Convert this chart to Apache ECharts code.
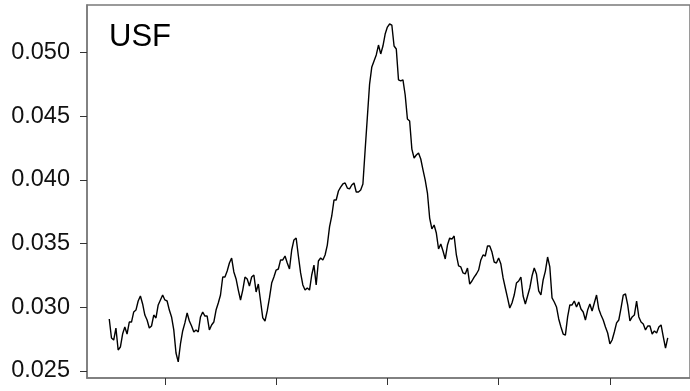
<!DOCTYPE html>
<html>
<head>
<meta charset="utf-8">
<title>USF</title>
<script src="https://cdn.jsdelivr.net/npm/echarts@6/dist/echarts.min.js"></script>
<style>
  html, body { margin: 0; padding: 0; background: #ffffff; }
  #chart { width: 690px; height: 391px; }
</style>
</head>
<body>
<div id="chart"></div>
<script>
// Series label
const seriesName = 'USF';

// Sampling of the series along the x axis (observation index)
const xStart = 50;
const xStep = 2;

// Observed values
const usfValues = [
  0.02908, 0.02759, 0.02743, 0.02837, 0.02665, 0.02688, 0.02790, 0.02845, 0.02790, 0.02884,
  0.02884, 0.02963, 0.02978, 0.03049, 0.03088, 0.03026, 0.02939, 0.02900, 0.02837, 0.02853,
  0.02939, 0.02916, 0.03018, 0.03057, 0.03096, 0.03057, 0.03049, 0.02978, 0.02924, 0.02822,
  0.02641, 0.02571, 0.02712, 0.02814, 0.02877, 0.02955, 0.02892, 0.02853, 0.02806, 0.02822,
  0.02806, 0.02924, 0.02963, 0.02931, 0.02931, 0.02822, 0.02861, 0.02884, 0.02978, 0.03033,
  0.03096, 0.03237, 0.03237, 0.03284, 0.03347, 0.03386, 0.03277, 0.03222, 0.03135, 0.03057,
  0.03135, 0.03237, 0.03222, 0.03167, 0.03237, 0.03253, 0.03120, 0.03182, 0.03049, 0.02916,
  0.02892, 0.02971, 0.03073, 0.03190, 0.03237, 0.03292, 0.03300, 0.03371, 0.03371, 0.03402,
  0.03347, 0.03300, 0.03449, 0.03528, 0.03543, 0.03402, 0.03269, 0.03175, 0.03135, 0.03151,
  0.03135, 0.03253, 0.03331, 0.03175, 0.03363, 0.03386, 0.03371, 0.03410, 0.03488, 0.03630,
  0.03716, 0.03841, 0.03841, 0.03912, 0.03943, 0.03967, 0.03975, 0.03935, 0.03928, 0.03959,
  0.03975, 0.03904, 0.03904, 0.03920, 0.03967, 0.04234, 0.04492, 0.04751, 0.04885, 0.04932,
  0.04979, 0.05057, 0.04987, 0.05049, 0.05143, 0.05198, 0.05222, 0.05214, 0.05049, 0.05026,
  0.04783, 0.04775, 0.04783, 0.04665, 0.04477, 0.04461, 0.04241, 0.04171, 0.04194, 0.04210,
  0.04163, 0.04077, 0.03998, 0.03896, 0.03700, 0.03614, 0.03645, 0.03582, 0.03457, 0.03496,
  0.03441, 0.03379, 0.03488, 0.03543, 0.03535, 0.03559, 0.03410, 0.03324, 0.03316, 0.03269,
  0.03261, 0.03308, 0.03182, 0.03206, 0.03237, 0.03261, 0.03292, 0.03371, 0.03410, 0.03402,
  0.03481, 0.03481, 0.03433, 0.03355, 0.03347, 0.03386, 0.03339, 0.03230, 0.03151, 0.03073,
  0.02994, 0.03033, 0.03096, 0.03190, 0.03206, 0.03237, 0.03088, 0.03026, 0.03088, 0.03151,
  0.03245, 0.03308, 0.03261, 0.03128, 0.03096, 0.03214, 0.03284, 0.03394, 0.03316, 0.03073,
  0.03041, 0.03002, 0.02908, 0.02845, 0.02790, 0.02782, 0.02924, 0.03018, 0.03018, 0.03049,
  0.03002, 0.03041, 0.02986, 0.02963, 0.02900, 0.02978, 0.03026, 0.02971, 0.03033, 0.03096,
  0.02986, 0.02939, 0.02900, 0.02845, 0.02798, 0.02712, 0.02743, 0.02806, 0.02877, 0.02900,
  0.02994, 0.03096, 0.03104, 0.03018, 0.02892, 0.02924, 0.02939, 0.03049, 0.02924, 0.02884,
  0.02869, 0.02822, 0.02853, 0.02853, 0.02790, 0.02814, 0.02798, 0.02845, 0.02861, 0.02767,
  0.02680, 0.02759
];

// Axis extents and tick positions
const xMin = 30;
const xMax = 572;
const xTicks = [100, 200, 300, 400, 500];
const yMin = 0.02445;
const yMax = 0.05371;
const yTicks = [0.025, 0.030, 0.035, 0.040, 0.045, 0.050];

const seriesData = usfValues.map((v, i) => [xStart + i * xStep, v]);

const axisGray = '#7a7a7a';
const fontFamily = '"Liberation Sans", Arial, Helvetica, sans-serif';

const chart = echarts.init(document.getElementById('chart'), null, { renderer: 'canvas' });

chart.setOption({
  animation: false,
  backgroundColor: '#ffffff',
  title: {
    text: seriesName,
    left: 109,
    top: 22,
    padding: 0,
    textStyle: {
      fontFamily: fontFamily,
      fontSize: 31,
      fontWeight: 'normal',
      color: '#000000'
    }
  },
  grid: {
    left: 87,
    top: 5,
    width: 610,
    height: 373,
    show: true,
    borderColor: axisGray,
    borderWidth: 1.5,
    backgroundColor: '#ffffff'
  },
  xAxis: {
    type: 'value',
    min: xMin,
    max: xMax,
    axisLine: { show: true, onZero: false, lineStyle: { color: axisGray, width: 1.5 } },
    axisTick: {
      show: true,
      length: 7,
      customValues: xTicks,
      lineStyle: { color: '#333333', width: 1 }
    },
    axisLabel: { show: false },
    splitLine: { show: false }
  },
  yAxis: {
    type: 'value',
    min: yMin,
    max: yMax,
    axisLine: { show: true, onZero: false, lineStyle: { color: axisGray, width: 1.5 } },
    axisTick: {
      show: true,
      length: 7,
      customValues: yTicks,
      lineStyle: { color: '#333333', width: 1 }
    },
    axisLabel: {
      show: true,
      customValues: yTicks,
      margin: 17,
      padding: [4, 0, 0, 0],
      fontFamily: fontFamily,
      fontSize: 23.5,
      color: '#111111',
      formatter: (v) => v.toFixed(3)
    },
    splitLine: { show: false }
  },
  series: [{
    name: seriesName,
    type: 'line',
    data: seriesData,
    showSymbol: false,
    symbol: 'none',
    lineStyle: { color: '#000000', width: 1.4 },
    clip: true
  }]
});
</script>
</body>
</html>
